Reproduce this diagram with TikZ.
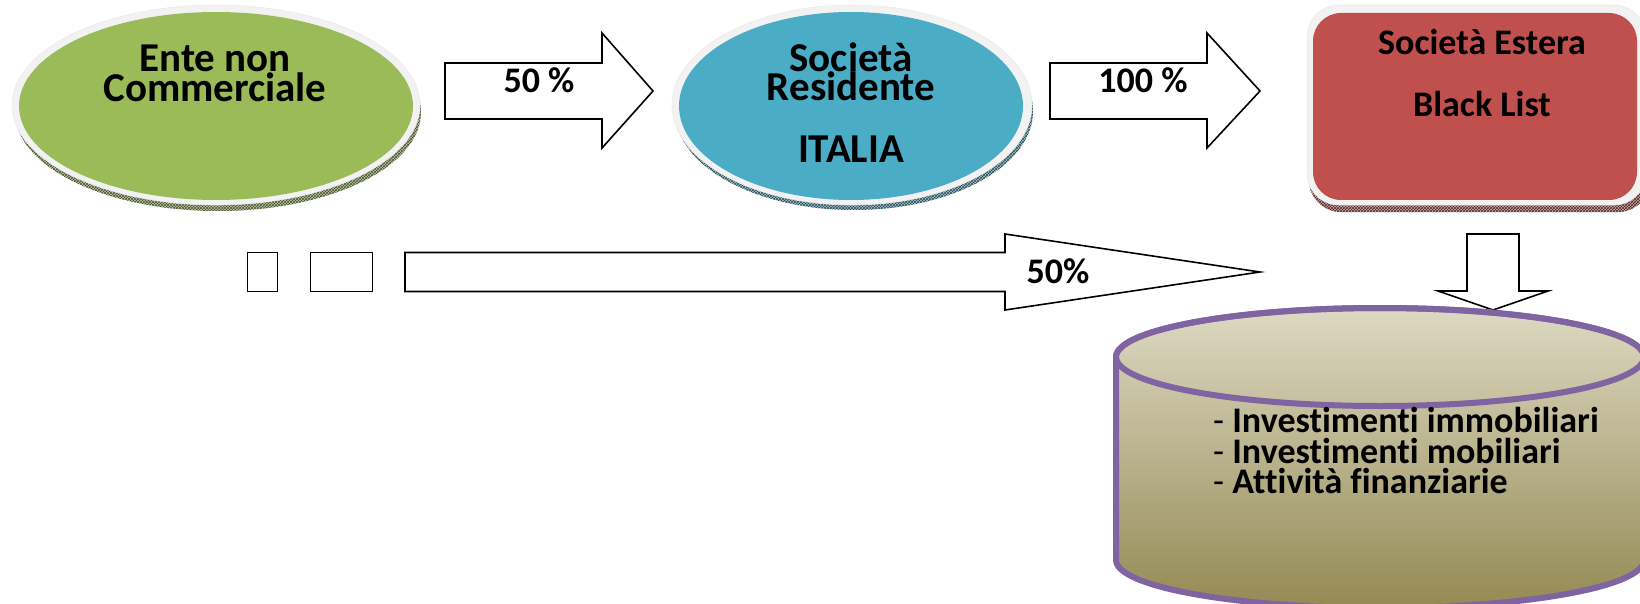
\documentclass[tikz,border=0pt]{standalone}
\usepackage{fontspec}
\setmainfont[Ligatures=NoCommon]{Carlito}
\usetikzlibrary{patterns,shapes.geometric}
\definecolor{egreen}{HTML}{9BBB59}
\definecolor{eblue}{HTML}{4BACC6}
\definecolor{ered}{HTML}{C0504D}
\definecolor{rimgray}{HTML}{F2F2F2}
\definecolor{cylpurple}{HTML}{8064A2}
\definecolor{cyltop}{HTML}{DDD9C3}
\definecolor{cylbot}{HTML}{948A54}
\begin{document}
\begin{tikzpicture}[x=1pt,y=-1pt,
  blockarrow/.style={draw=black, line width=1.6pt, fill=white, line join=miter},
  lbl/.style={font=\bfseries\fontsize{36}{40}\selectfont, anchor=base, inner sep=0pt},
  biglbl/.style={font=\bfseries\fontsize{41}{45}\selectfont, anchor=base, inner sep=0pt},
  edgeband/.style={fill=#1!40!gray!55!white, postaction={pattern=crosshatch, pattern color=#1!45!black}},
  rim/.style={fill=rimgray, draw=black!8, line width=0.6pt},
  emptybox/.style={draw=black, line width=1.6pt, fill=white}
]
\useasboundingbox (0,0) rectangle (1640,604);
\clip (0,0) rectangle (1640,604);

% --- Ente non Commerciale ---
\path[edgeband=egreen] (218,112) ellipse[x radius=203, y radius=99];
\path[rim] (216,105) ellipse[x radius=204, y radius=100];
\node[ellipse, fill=egreen, minimum width=394, minimum height=188, inner sep=0pt] (ente) at (216,106) {};
\node[biglbl] (ente1) at (215,72) {Ente non};
\node[biglbl] (ente2) at (215,102) {Commerciale};

% --- Societa Residente ITALIA ---
\path[edgeband=eblue] (854,111) ellipse[x radius=179, y radius=99];
\path[rim] (852,105) ellipse[x radius=180, y radius=100];
\node[ellipse, fill=eblue, minimum width=344, minimum height=188, inner sep=0pt] (soc) at (851,106) {};
\node[biglbl] (soc1) at (851,72) {Società};
\node[biglbl] (soc2) at (851,101) {Residente};
\node[biglbl] (soc3) at (851,163) {ITALIA};

% --- Societa Estera Black List ---
\path[edgeband=ered, rounded corners=32] (1309,12) rectangle (1650,212);
\path[rim, rounded corners=32] (1307,5) rectangle (1646,205);
\node[fill=ered, rounded corners=28, minimum width=324, minimum height=187, inner sep=0pt] (est) at (1475,106.5) {};
\node[lbl] (est1) at (1482,55) {Società Estera};
\node[lbl] (est2) at (1482,117) {Black List};

% --- block arrows ---
\path[blockarrow] (445,63) -- (602,63) -- (602,33) -- (653,91) -- (602,148) -- (602,119) -- (445,119) -- cycle;
\node[lbl] (p50) at (539,93) {50 \%};
\path[blockarrow] (1050,63) -- (1207,63) -- (1207,33) -- (1260,91) -- (1207,148) -- (1207,119) -- (1050,119) -- cycle;
\node[lbl] (p100) at (1143,93) {100 \%};

% --- bottom row ---
\node[emptybox, minimum width=30, minimum height=39, inner sep=0pt] (box1) at (262.5,272) {};
\node[emptybox, minimum width=62, minimum height=39, inner sep=0pt] (box2) at (341.5,272) {};
\path[blockarrow] (405,252.5) -- (1005,252.5) -- (1005,234) -- (1260,272) -- (1005,310) -- (1005,291.5) -- (405,291.5) -- cycle;
\node[lbl] (p50b) at (1058,283) {50\%};

% --- down arrow ---
\path[blockarrow] (1467,234) -- (1519,234) -- (1519,291) -- (1548,291) -- (1493,310) -- (1438,291) -- (1467,291) -- cycle;

% --- cylinder ---
\path[top color=cyltop, bottom color=cylbot, draw=cylpurple, line width=6pt]
  (1116,357) -- (1116,560) arc[start angle=180, end angle=0, x radius=264, y radius=48]
  -- (1644,357) arc[start angle=0, end angle=-180, x radius=264, y radius=49] -- cycle;
\draw[cylpurple, line width=6pt] (1380,357) ellipse[x radius=264, y radius=49];
\node[lbl, anchor=base west] (inv1) at (1213,432) {{\mdseries -} Investimenti immobiliari};
\node[lbl, anchor=base west] (inv2) at (1213,463) {{\mdseries -} Investimenti mobiliari};
\node[lbl, anchor=base west] (inv3) at (1213,493) {{\mdseries -} Attività finanziarie};
\end{tikzpicture}
\end{document}
